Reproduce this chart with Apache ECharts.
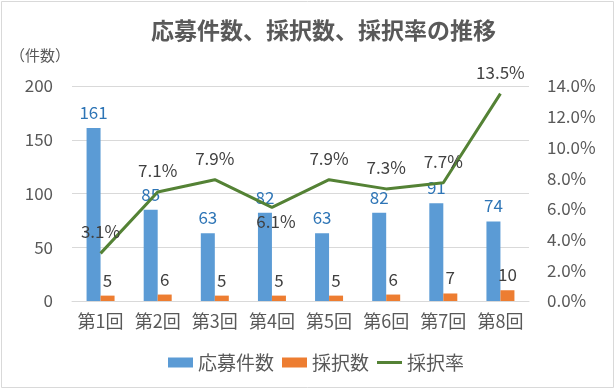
<!DOCTYPE html>
<html>
<head>
<meta charset="utf-8">
<script src="https://cdn.jsdelivr.net/npm/echarts@6/dist/echarts.min.js"></script>
<style>
html,body{margin:0;padding:0;background:#fff;}
#c{width:616px;height:390px;}
</style>
</head>
<body>
<div id="c"></div>
<script>
const categories = ['第1回','第2回','第3回','第4回','第5回','第6回','第7回','第8回'];
const applications = [161, 85, 63, 82, 63, 82, 91, 74];
const adopted = [5, 6, 5, 5, 5, 6, 7, 10];
const adoptionRate = [0.031, 0.071, 0.079, 0.061, 0.079, 0.073, 0.077, 0.135];
const leftTicks = { min: 0, max: 200, interval: 50 };
const rightTicks = { min: 0, max: 0.14, interval: 0.02 };

const FONT = '"Noto Sans CJK JP", "Noto Sans", sans-serif';
const chart = echarts.init(document.getElementById('c'));
chart.setOption({
  backgroundColor: '#fff',
  animation: false,
  textStyle: { fontFamily: FONT },
  graphic: [
    { type: 'rect', shape: { x: 1.5, y: 1.5, width: 612, height: 386 }, style: { fill: 'none', stroke: '#d9d9d9', lineWidth: 1 }, silent: true },
    { type: 'text', left: 10, top: 48, style: { text: '（件数）', fill: '#595959', font: '15px ' + FONT } }
  ],
  title: {
    text: '応募件数、採択数、採択率の推移',
    left: 146,
    top: 14,
    textStyle: { fontSize: 23, fontWeight: 'bold', color: '#595959', fontFamily: FONT }
  },
  legend: {
    bottom: 13,
    left: 163,
    itemWidth: 25,
    itemHeight: 10,
    itemGap: 8,
    textStyle: { fontSize: 19, color: '#595959', fontFamily: FONT },
    data: [
      { name: '応募件数', icon: 'rect' },
      { name: '採択数', icon: 'rect' },
      { name: '採択率', icon: 'path://M0,0 L25,0 L25,3 L0,3 Z' }
    ]
  },
  grid: { left: 72, right: 87, top: 86, bottom: 89 },
  xAxis: {
    type: 'category',
    data: categories,
    axisTick: { show: false },
    axisLine: { lineStyle: { color: '#d9d9d9' } },
    axisLabel: { color: '#595959', fontSize: 18, margin: 11, interval: 0, fontFamily: FONT }
  },
  yAxis: [
    {
      type: 'value', min: leftTicks.min, max: leftTicks.max, interval: leftTicks.interval,
      axisLine: { show: false }, axisTick: { show: false },
      splitLine: { lineStyle: { color: '#d9d9d9' } },
      axisLabel: { color: '#595959', fontSize: 17, margin: 19, fontFamily: FONT }
    },
    {
      type: 'value', min: rightTicks.min, max: rightTicks.max, interval: rightTicks.interval,
      axisLine: { show: false }, axisTick: { show: false },
      splitLine: { show: false },
      axisLabel: { color: '#595959', fontSize: 17, margin: 18, fontFamily: FONT,
        formatter: v => (v * 100).toFixed(1) + '%' }
    }
  ],
  series: [
    {
      name: '応募件数', type: 'bar', data: applications, barWidth: 14, barGap: '0%',
      itemStyle: { color: '#5B9BD5' },
      label: { show: true, position: 'top', distance: 7, color: '#2E75B6', fontSize: 17, fontFamily: FONT }
    },
    {
      name: '採択数', type: 'bar', data: adopted, barWidth: 14,
      itemStyle: { color: '#ED7D31' },
      label: { show: true, position: 'top', distance: 7, color: '#404040', fontSize: 17, fontFamily: FONT }
    },
    {
      name: '採択率', type: 'line', yAxisIndex: 1,
      data: adoptionRate.map((v, i) => i === 3
        ? { value: v, label: { position: 'bottom', distance: 6, offset: [4, 0] } }
        : v),
      symbol: 'circle', symbolSize: 0, showSymbol: true,
      lineStyle: { color: '#548235', width: 3 },
      itemStyle: { color: '#548235' },
      label: { show: true, position: 'top', distance: 13, color: '#404040', fontSize: 17, fontFamily: FONT,
        formatter: p => (p.value * 100).toFixed(1) + '%' },
      z: 5
    }
  ]
});
</script>
</body>
</html>
